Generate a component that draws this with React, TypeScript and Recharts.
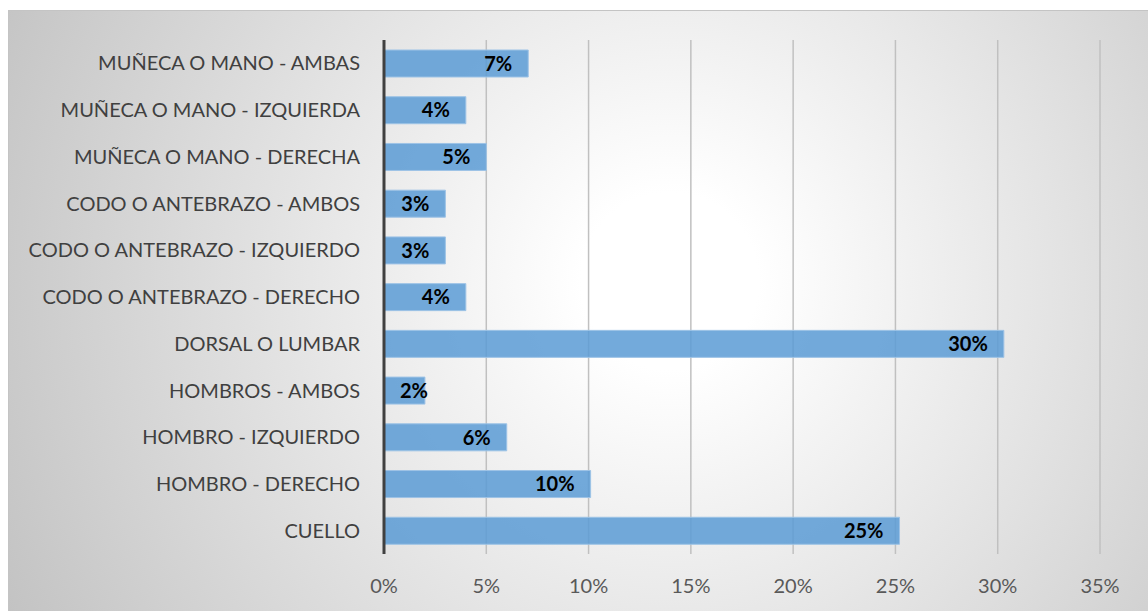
import { BarChart, Bar, XAxis, YAxis, CartesianGrid, LabelList } from "recharts";

// categories top to bottom
const categories = [
  "MUÑECA O MANO - AMBAS",
  "MUÑECA O MANO - IZQUIERDA",
  "MUÑECA O MANO - DERECHA",
  "CODO O ANTEBRAZO - AMBOS",
  "CODO O ANTEBRAZO - IZQUIERDO",
  "CODO O ANTEBRAZO - DERECHO",
  "DORSAL O LUMBAR",
  "HOMBROS - AMBOS",
  "HOMBRO - IZQUIERDO",
  "HOMBRO - DERECHO",
  "CUELLO",
];

// percent values (bar lengths estimated from the axis)
const values = [7.05, 4.0, 5.0, 3.0, 3.0, 4.0, 30.3, 2.0, 6.0, 10.1, 25.2];

const xTicks = [0, 5, 10, 15, 20, 25, 30, 35];

const data = categories.map((name, i) => ({ name, value: values[i] }));

const font = "Lato, 'Open Sans', sans-serif";

// inside-end label, but never starting before the bar's own start (like Excel)
const BarLabel = (props: any) => {
  const { x, y, width, height, value } = props;
  const text = `${Math.round(Number(value))}%`;
  const textW = text.length * 10.5;
  const pad = 16;
  const fits = width - 2 * pad >= textW;
  return (
    <text
      x={fits ? x + width - pad : x + pad}
      y={y + height / 2}
      dy="0.36em"
      textAnchor={fits ? "end" : "start"}
      fill="#000"
      fontWeight={700}
      fontSize={20}
      fontFamily={font}
    >
      {text}
    </text>
  );
};

export default function App() {
  return (
    <div>
      <style>{`body{margin:0;overflow:hidden;}`}</style>
      <div
        style={{
          position: "absolute",
          left: 8,
          top: 10,
          width: 1139,
          height: 600,
          borderTop: "1px solid #c4c4c4",
          borderLeft: "1px solid #c4c4c4",
          background:
            "radial-gradient(circle at 58% 45%, #ffffff 0%, #ffffff 12%, #c3c3c3 100%)",
          fontFamily: font,
        }}
      >
        <BarChart
          width={1139}
          height={600}
          data={data}
          layout="vertical"
          margin={{ top: 29, right: 48, left: 0, bottom: 0 }}
        >
          <CartesianGrid horizontal={false} stroke="#c0c0c0" strokeWidth={1.5} />
          <XAxis
            type="number"
            domain={[0, 35]}
            ticks={xTicks}
            interval={0}
            tickFormatter={(v) => `${v}%`}
            axisLine={false}
            tickLine={false}
            tickSize={0}
            tickMargin={25}
            height={57}
            tick={{ fill: "#595959", fontSize: 20, fontFamily: font }}
          />
          <YAxis
            type="category"
            dataKey="name"
            width={375}
            axisLine={{ stroke: "#404040", strokeWidth: 3 }}
            tickLine={false}
            tickSize={0}
            tickMargin={24}
            interval={0}
            tick={{ fill: "#404040", fontSize: 20, fontFamily: font }}
          />
          <Bar
            dataKey="value"
            barSize={27}
            fill="#5b9bd5"
            fillOpacity={0.85}
            stroke="#9dc3e6"
            strokeWidth={1}
            isAnimationActive={false}
          >
            <LabelList dataKey="value" content={<BarLabel />} />
          </Bar>
        </BarChart>
      </div>
    </div>
  );
}
